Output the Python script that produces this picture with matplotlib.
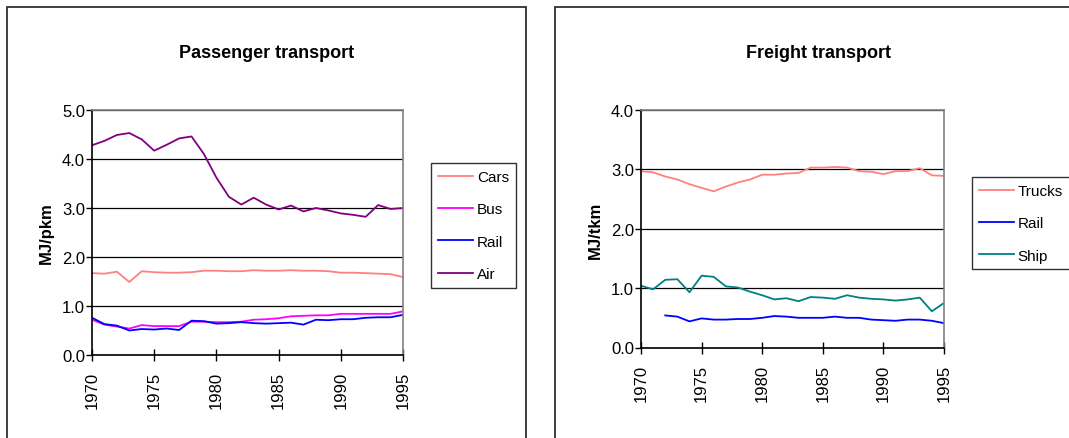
import matplotlib
matplotlib.use("Agg")
import matplotlib.pyplot as plt
from matplotlib.patches import Rectangle
from matplotlib.ticker import FormatStrFormatter, MultipleLocator

plt.rcParams['font.family'] = ['Liberation Sans', 'DejaVu Sans']

years = list(range(1970, 1996))

# Passenger transport, MJ per passenger-km
cars = [1.67, 1.66, 1.70, 1.49, 1.71, 1.69, 1.68, 1.68, 1.69, 1.72, 1.72, 1.71, 1.71,
        1.73, 1.72, 1.72, 1.73, 1.72, 1.72, 1.71, 1.68, 1.68, 1.67, 1.66, 1.65, 1.59]
bus = [0.72, 0.62, 0.58, 0.54, 0.61, 0.59, 0.59, 0.59, 0.68, 0.68, 0.67, 0.67, 0.68,
       0.72, 0.73, 0.75, 0.79, 0.80, 0.81, 0.81, 0.84, 0.84, 0.84, 0.84, 0.84, 0.89]
rail_p = [0.76, 0.63, 0.60, 0.50, 0.53, 0.52, 0.54, 0.51, 0.70, 0.69, 0.64, 0.65, 0.67,
          0.65, 0.64, 0.65, 0.66, 0.62, 0.72, 0.71, 0.73, 0.73, 0.76, 0.77, 0.77, 0.82]
air = [4.28, 4.37, 4.49, 4.53, 4.40, 4.17, 4.29, 4.42, 4.46, 4.10, 3.62, 3.23, 3.07,
       3.21, 3.07, 2.97, 3.05, 2.93, 3.00, 2.95, 2.89, 2.86, 2.82, 3.06, 2.98, 3.00]

# Freight transport, MJ per tonne-km (rail series starts in 1972)
trucks = [2.97, 2.95, 2.88, 2.83, 2.75, 2.69, 2.63, 2.71, 2.78, 2.83, 2.91, 2.91, 2.93,
          2.94, 3.03, 3.03, 3.04, 3.03, 2.97, 2.96, 2.92, 2.97, 2.97, 3.02, 2.90, 2.89]
rail_f_years = list(range(1972, 1996))
rail_f = [0.54, 0.52, 0.44, 0.49, 0.47, 0.47, 0.48, 0.48, 0.50, 0.53, 0.52, 0.50,
          0.50, 0.50, 0.52, 0.50, 0.50, 0.47, 0.46, 0.45, 0.47, 0.47, 0.45, 0.41]
ship = [1.04, 0.98, 1.14, 1.15, 0.93, 1.21, 1.19, 1.03, 1.01, 0.94, 0.88, 0.81, 0.83,
        0.78, 0.85, 0.84, 0.82, 0.88, 0.84, 0.82, 0.81, 0.79, 0.81, 0.84, 0.61, 0.75]

W, H = 1069, 439
fig = plt.figure(figsize=(W / 100, H / 100), dpi=100)


def fx(px):
    return px / W


def fy(py):
    return 1 - py / H


# panel frames
for x0, x1 in [(7, 526), (555, 1080)]:
    fig.add_artist(Rectangle((fx(x0), -0.1), fx(x1 - x0), fy(8) + 0.1,
                             transform=fig.transFigure, fill=False,
                             edgecolor='#303030', linewidth=1.3))


def style_axes(ax, ymax):
    ax.set_xlim(1970, 1995)
    ax.set_ylim(0, ymax)
    ax.xaxis.set_major_locator(MultipleLocator(5))
    ax.yaxis.set_major_locator(MultipleLocator(1))
    ax.yaxis.set_major_formatter(FormatStrFormatter('%.1f'))
    ax.grid(axis='y', color='black', linewidth=0.9)
    ax.set_axisbelow(True)
    for side in ['top', 'right']:
        ax.spines[side].set_color('#808080')
        ax.spines[side].set_linewidth(1.2)
    for side in ['left', 'bottom']:
        ax.spines[side].set_color('black')
        ax.spines[side].set_linewidth(1.2)
    ax.tick_params(axis='x', direction='inout', length=9, width=1, labelsize=12,
                   labelrotation=90, pad=7)
    ax.tick_params(axis='y', direction='out', length=4, width=1, labelsize=12, pad=1)


ax1 = fig.add_axes([fx(92), fy(356), fx(403 - 92), fy(111) - fy(356)])
ax1.plot(years, cars, color='#FF8080', lw=1.3, label='Cars')
ax1.plot(years, bus, color='#FF00FF', lw=1.3, label='Bus')
ax1.plot(years, rail_p, color='#0000FF', lw=1.3, label='Rail')
ax1.plot(years, air, color='#800080', lw=1.3, label='Air')
style_axes(ax1, 5)

ax2 = fig.add_axes([fx(641), fy(348.5), fx(944 - 641), fy(111) - fy(348.5)])
ax2.plot(years, trucks, color='#FF8080', lw=1.3, label='Trucks')
ax2.plot(rail_f_years, rail_f, color='#0000FF', lw=1.3, label='Rail')
ax2.plot(years, ship, color='#008080', lw=1.3, label='Ship')
style_axes(ax2, 4)

title_font = dict(fontsize=13, fontweight='bold')
fig.text(fx(267), fy(53), 'Passenger transport', ha='center', va='center', **title_font)
fig.text(fx(819), fy(53), 'Freight transport', ha='center', va='center', **title_font)

fig.text(fx(46), fy(233), 'MJ/pkm', rotation=90, ha='center', va='center',
         fontsize=12, fontweight='bold')
fig.text(fx(595), fy(230), 'MJ/tkm', rotation=90, ha='center', va='center',
         fontsize=12, fontweight='bold')

leg_kw = dict(loc='upper left', fontsize=11, frameon=True, fancybox=False,
              edgecolor='black', handlelength=2.3, handletextpad=0.25,
              labelspacing=1.2, borderpad=0.45, borderaxespad=0)
leg1 = ax1.legend(bbox_to_anchor=(fx(431), fy(164)), bbox_transform=fig.transFigure, **leg_kw)
leg2 = ax2.legend(bbox_to_anchor=(fx(972), fy(178)), bbox_transform=fig.transFigure, **leg_kw)
for leg in (leg1, leg2):
    leg.get_frame().set_linewidth(1.0)

fig.savefig('out.png', dpi=100)
